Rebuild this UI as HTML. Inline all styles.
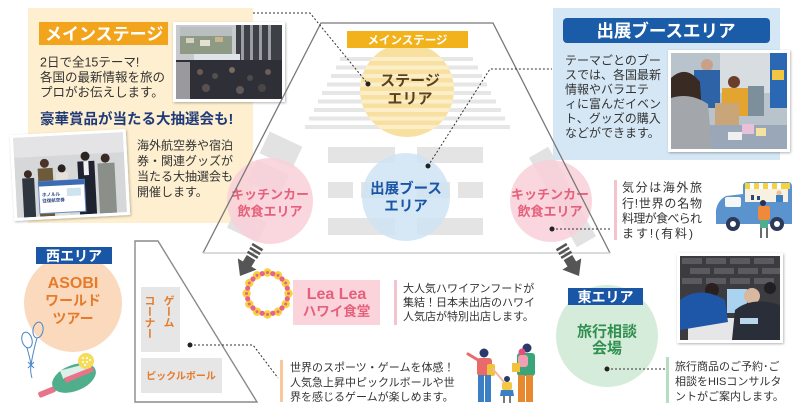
<!DOCTYPE html>
<html><head><meta charset="utf-8">
<style>
html,body{margin:0;padding:0;background:#fff;}
#wrap{position:relative;width:806px;height:411px;overflow:hidden;background:#fff;font-family:"Liberation Sans","Noto Sans CJK JP",sans-serif;}
svg{position:absolute;left:0;top:0;}
svg text{font-family:"Liberation Sans","Noto Sans CJK JP",sans-serif;}
.vt{position:absolute;left:139px;top:295px;width:38px;height:56px;writing-mode:vertical-rl;font-size:11px;line-height:19px;font-weight:bold;color:#e57b2b;font-family:"Liberation Sans","Noto Sans CJK JP",sans-serif;letter-spacing:0px;white-space:nowrap;}
</style></head><body><div id="wrap">
<svg width="806" height="411" viewBox="0 0 806 411" xmlns="http://www.w3.org/2000/svg">
<defs>
<filter id="sh" x="-10%" y="-10%" width="125%" height="125%"><feDropShadow dx="0.8" dy="1" stdDeviation="1.2" flood-color="#000" flood-opacity="0.3"/></filter>
<clipPath id="stagec"><circle cx="407" cy="90" r="47"/></clipPath>
<g id="fy"><circle cx="288.5" cy="293.5" r="4.2" fill="#f6d23c"/><circle cx="288.5" cy="293.5" r="1.5" fill="#e8628a"/></g>
<g id="fp"><circle cx="288" cy="293.5" r="2.6" fill="#e8628a"/></g>
<clipPath id="p1"><rect x="176" y="25" width="106" height="74"/></clipPath>
<clipPath id="p2"><rect x="15" y="135" width="110" height="80"/></clipPath>
<clipPath id="p3"><rect x="671" y="53" width="116" height="96"/></clipPath>
<clipPath id="p4"><rect x="680" y="256" width="100" height="84"/></clipPath>
</defs>

<!-- LEFT CREAM PANEL -->
<rect x="28" y="8" width="225" height="215" fill="#fdefcf"/>
<rect x="39" y="22" width="129" height="23" fill="#f1a41c"/>
<text x="45" y="40" font-size="17" font-weight="bold" fill="#fff">メインステージ</text>
<g font-size="12.5" fill="#333">
<text x="40" y="66.5">2日で全15テーマ!</text>
<text x="40" y="81.5">各国の最新情報を旅の</text>
<text x="40" y="96.5">プロがお伝えします。</text>
</g>
<text x="40" y="124" font-size="14.5" font-weight="bold" fill="#1f3a78">豪華賞品が当たる大抽選会も!</text>
<g font-size="12" fill="#333">
<text x="137" y="149.5">海外航空券や宿泊</text>
<text x="137" y="165">券・関連グッズが</text>
<text x="137" y="180.5">当たる大抽選会も</text>
<text x="137" y="196">開催します。</text>
</g>

<!-- PHOTO 1 main stage -->
<rect x="173" y="22" width="112" height="80" fill="#fff" filter="url(#sh)"/>
<g clip-path="url(#p1)">
<rect x="176" y="25" width="106" height="74" fill="#c8c9cc"/>
<rect x="180" y="27" width="52" height="27" fill="#8f9a86"/>
<rect x="180" y="27" width="52" height="9" fill="#b9bfc0"/>
<rect x="186" y="38" width="8" height="5" fill="#d8d2c0"/><rect x="200" y="40" width="10" height="6" fill="#e6e0d0"/><rect x="215" y="37" width="8" height="5" fill="#c9b68e"/>
<rect x="236" y="25" width="46" height="36" fill="#3d4047"/>
<rect x="241" y="25" width="3" height="36" fill="#9a9da3"/><rect x="250" y="25" width="3" height="36" fill="#9a9da3"/><rect x="259" y="25" width="3" height="36" fill="#9a9da3"/><rect x="268" y="25" width="3" height="36" fill="#9a9da3"/>
<rect x="194" y="54" width="46" height="8" fill="#dfe4ea"/>
<rect x="176" y="60" width="106" height="39" fill="#2f2f37"/>
<rect x="176" y="62" width="14" height="37" fill="#9a9a9e"/>
<circle cx="200" cy="72" r="3" fill="#6b5a52"/><circle cx="215" cy="76" r="3" fill="#55504f"/><circle cx="232" cy="70" r="3" fill="#7a6a60"/><circle cx="250" cy="78" r="3" fill="#4d4a4c"/><circle cx="268" cy="72" r="3" fill="#6a5e58"/><circle cx="206" cy="88" r="4" fill="#5a5050"/><circle cx="240" cy="90" r="4" fill="#615858"/><circle cx="262" cy="88" r="4" fill="#4a4546"/>
</g>

<!-- PHOTO 2 lottery -->
<g transform="rotate(-3 70 175)">
<rect x="12" y="132" width="116" height="86" fill="#fff" filter="url(#sh)"/>
<g clip-path="url(#p2)">
<rect x="15" y="135" width="110" height="80" fill="#d6d7d9"/>
<rect x="15" y="135" width="110" height="20" fill="#e4e4e6"/>
<circle cx="28" cy="172" r="4" fill="#3b2a22"/><rect x="22" y="176" width="12" height="39" fill="#2e3640"/>
<circle cx="45" cy="162" r="4.5" fill="#4a3528"/><rect x="38" y="167" width="15" height="48" fill="#6d5a3a"/>
<circle cx="62" cy="168" r="4" fill="#2a2220"/><rect x="56" y="172" width="12" height="43" fill="#e7e0d8"/>
<circle cx="86" cy="157" r="4.5" fill="#2b2422"/><rect x="78" y="162" width="17" height="53" fill="#1f2330"/>
<rect x="84" y="162" width="5" height="14" fill="#f1f1f1"/>
<circle cx="106" cy="160" r="4.5" fill="#3a2c24"/><rect x="98" y="165" width="17" height="50" fill="#8a8f8a"/>
<rect x="38" y="180" width="46" height="32" fill="#fff" stroke="#6b8fc6" stroke-width="1"/>
<rect x="38" y="180" width="46" height="5" fill="#3c6bb3"/>
<rect x="66" y="188" width="14" height="8" fill="#cfe3ef"/>
<text x="41" y="195" font-size="4.5" fill="#1f3a78" font-weight="bold">ホノルル</text>
<text x="41" y="201" font-size="4.5" fill="#1f3a78" font-weight="bold">往復航空券</text>
</g>
</g>

<!-- RIGHT BLUE PANEL -->
<rect x="553" y="8" width="227" height="152" fill="#d5e7f5"/>
<rect x="563" y="18" width="207" height="25" rx="4" fill="#1b5ca8"/>
<text x="666" y="37" font-size="17.5" font-weight="bold" fill="#fff" text-anchor="middle">出展ブースエリア</text>
<g font-size="12" fill="#333">
<text x="565" y="64.5">テーマごとのブー</text>
<text x="565" y="79">スでは、各国最新</text>
<text x="565" y="93.5">情報やバラエテ</text>
<text x="565" y="108">ィに富んだイベン</text>
<text x="565" y="122.5">ト、グッズの購入</text>
<text x="565" y="137">などができます。</text>
</g>

<!-- PHOTO 3 booth -->
<rect x="668" y="50" width="122" height="102" fill="#fff" filter="url(#sh)"/>
<g clip-path="url(#p3)">
<rect x="671" y="53" width="116" height="96" fill="#b8c3cc"/>
<rect x="720" y="53" width="50" height="40" fill="#d8dde2"/>
<rect x="770" y="53" width="17" height="55" fill="#2a68b4"/>
<rect x="772" y="70" width="12" height="10" fill="#f2c640"/>
<circle cx="707" cy="65" r="6" fill="#caa088"/>
<rect x="694" y="70" width="26" height="38" fill="#2e63a8"/>
<circle cx="734" cy="82" r="6" fill="#6a3e28"/>
<rect x="722" y="88" width="26" height="28" fill="#e3a530"/>
<rect x="715" y="103" width="24" height="30" fill="#c9a67a"/>
<rect x="671" y="125" width="116" height="24" fill="#9aa7b8"/>
<rect x="742" y="124" width="12" height="10" fill="#e8c0d8"/><rect x="756" y="128" width="10" height="8" fill="#f3e3a0"/><rect x="728" y="132" width="14" height="8" fill="#f0f0f0"/>
<path d="M671 78 Q686 64 700 82 L704 149 L671 149 Z" fill="#3a2a24"/>
<path d="M671 98 Q690 92 708 104 L712 149 L671 149 Z" fill="#a3a6aa"/>
<rect x="748" y="86" width="16" height="30" fill="#7d8f9a"/>
</g>

<!-- PHOTO 4 consultation -->
<rect x="677" y="253" width="106" height="90" fill="#fff" filter="url(#sh)"/>
<g clip-path="url(#p4)">
<rect x="680" y="256" width="100" height="84" fill="#3c3c40"/>
<g fill="#5a5a5f">
<rect x="682" y="258" width="20" height="6"/><rect x="706" y="258" width="20" height="6"/><rect x="730" y="258" width="20" height="6"/><rect x="754" y="258" width="20" height="6"/>
<rect x="690" y="268" width="20" height="6"/><rect x="714" y="268" width="20" height="6"/><rect x="738" y="268" width="20" height="6"/><rect x="762" y="268" width="18" height="6"/>
<rect x="682" y="278" width="20" height="6"/><rect x="706" y="278" width="20" height="6"/><rect x="730" y="278" width="20" height="6"/><rect x="754" y="278" width="20" height="6"/>
</g>
<rect x="727" y="289" width="20" height="24" fill="#a9d3ee"/>
<rect x="688" y="318" width="80" height="22" fill="#e6e6e8"/>
<circle cx="712" cy="290" r="7" fill="#2a2020"/>
<path d="M680 300 Q700 285 725 300 L728 322 L680 330 Z" fill="#1f57a8"/>
<circle cx="752" cy="296" r="8" fill="#d8b8a0"/>
<path d="M735 310 Q752 296 780 305 L780 340 L732 340 Z" fill="#2a2e38"/>
<circle cx="770" cy="288" r="6" fill="#202024"/>
<rect x="740" y="318" width="18" height="6" fill="#b9d7ea"/>
</g>

<!-- MAIN TRAPEZOID CONTENT -->
<g fill="#e6e6e6">
<rect x="340" y="57" width="133" height="4"/>
<rect x="336" y="65.5" width="142" height="4"/>
<rect x="331" y="74" width="151" height="4"/>
<rect x="327" y="82.5" width="160" height="4"/>
<rect x="322" y="91" width="169" height="4"/>
<rect x="318" y="99.5" width="178" height="4"/>
<rect x="314" y="108" width="187" height="4"/>
<rect x="309" y="116.5" width="196" height="4"/>
<rect x="305" y="125" width="205" height="4"/>
</g>
<circle cx="407" cy="90" r="47" fill="#f8e1a0"/>
<g clip-path="url(#stagec)" fill="#fbeec9">
<rect x="340" y="57" width="133" height="4"/>
<rect x="336" y="65.5" width="142" height="4"/>
<rect x="331" y="74" width="151" height="4"/>
<rect x="327" y="82.5" width="160" height="4"/>
<rect x="322" y="91" width="169" height="4"/>
<rect x="318" y="99.5" width="178" height="4"/>
<rect x="314" y="108" width="187" height="4"/>
<rect x="309" y="116.5" width="196" height="4"/>
<rect x="305" y="125" width="205" height="4"/>
</g>
<rect x="347" y="31" width="121" height="17" fill="#f2b21c"/>
<text x="407.5" y="44" font-size="11.5" font-weight="bold" fill="#fff" text-anchor="middle">メインステージ</text>
<g font-size="15" font-weight="bold" fill="#5a4220" text-anchor="middle">
<text x="410" y="85.5">ステージ</text>
<text x="410" y="103.5">エリア</text>
</g>

<!-- booth rects -->
<g fill="#e4e4e4">
<rect x="328" y="147" width="67" height="16"/><rect x="417" y="147" width="66" height="16"/>
<rect x="328" y="182" width="25" height="16"/><rect x="361" y="182" width="34" height="16"/><rect x="417" y="182" width="33" height="16"/><rect x="458" y="182" width="25" height="16"/>
<rect x="328" y="218" width="67" height="17"/><rect x="417" y="218" width="66" height="17"/>
</g>
<circle cx="406" cy="197" r="44" fill="#cfe3f4" opacity="0.85"/>
<g font-size="14.5" font-weight="bold" fill="#1a56a6" text-anchor="middle">
<text x="406" y="193.5">出展ブース</text>
<text x="406" y="211">エリア</text>
</g>

<!-- kitchen rects left -->
<g fill="#e2e2e2">
<rect x="263" y="138" width="36" height="24" transform="rotate(25 281 150)"/>
<rect x="250" y="166" width="36" height="24" transform="rotate(25 268 178)"/>
<rect x="230" y="214" width="34" height="22" transform="rotate(25 247 225)"/>
</g>
<circle cx="270" cy="201" r="43" fill="#f9d0d8" opacity="0.85"/>
<g font-size="13" font-weight="bold" fill="#e5607c" text-anchor="middle">
<text x="270" y="199">キッチンカー</text>
<text x="270" y="216">飲食エリア</text>
</g>
<!-- kitchen rects right -->
<g fill="#e2e2e2">
<rect x="536" y="150" width="22" height="34" transform="rotate(-30 547 167)"/>
<rect x="552" y="180" width="22" height="34" transform="rotate(-30 563 197)"/>
<rect x="567" y="210" width="22" height="34" transform="rotate(-30 578 227)"/>
</g>
<circle cx="551" cy="201" r="41" fill="#f9d0d8" opacity="0.85"/>
<g font-size="13" font-weight="bold" fill="#e5607c" text-anchor="middle">
<text x="550" y="199">キッチンカー</text>
<text x="550" y="216">飲食エリア</text>
</g>

<!-- trapezoid outline -->
<path d="M203 253 L321 23 L493 23 L610 253" fill="none" stroke="#787878" stroke-width="1.3"/>
<line x1="203" y1="253" x2="610" y2="253" stroke="#cfcfcf" stroke-width="1.5"/>

<!-- kitchen text right -->
<rect x="614" y="180" width="3" height="60" fill="#f4c4ce"/>
<g font-size="12" fill="#333">
<text x="622" y="191.5" textLength="80" lengthAdjust="spacing">気分は海外旅</text>
<text x="622" y="207.5" textLength="80" lengthAdjust="spacing">行!世界の名物</text>
<text x="622" y="222.5" textLength="80" lengthAdjust="spacing">料理が食べられ</text>
<text x="622" y="237.5" textLength="71" lengthAdjust="spacing">ます!(有料)</text>
</g>

<!-- food truck -->
<g>
<path d="M743 186 Q743 182 748 182 L788 182 Q792 182 792 187 L792 224 L716 224 L716 210 Q718 200 726 196 L743 194 Z" fill="#5b93cf"/>
<rect x="725" y="197" width="16" height="10" rx="2" fill="#f4f6f8"/>
<rect x="745" y="188" width="43" height="14" fill="#f6f1e2"/>
<rect x="745" y="183" width="45" height="6" fill="#f5d23e"/>
<rect x="750" y="183" width="4" height="6" fill="#fff"/><rect x="759" y="183" width="4" height="6" fill="#fff"/><rect x="768" y="183" width="4" height="6" fill="#fff"/><rect x="777" y="183" width="4" height="6" fill="#fff"/>
<circle cx="779" cy="193" r="2.5" fill="#f0c090"/><rect x="776" y="195" width="7" height="7" fill="#3b7fc4"/>
<rect x="751" y="195" width="3" height="5" fill="#2a4a7a"/><rect x="757" y="196" width="3" height="4" fill="#2a4a7a"/>
<circle cx="733" cy="224" r="7" fill="#2b3a5a"/><circle cx="733" cy="224" r="3" fill="#fff"/>
<circle cx="777" cy="224" r="7" fill="#2b3a5a"/><circle cx="777" cy="224" r="3" fill="#fff"/>
<circle cx="763" cy="203" r="3" fill="#2a3050"/>
<rect x="758" y="206" width="12" height="14" rx="2" fill="#ee8a3a"/>
<rect x="760" y="220" width="8" height="8" fill="#4fae8c"/>
<line x1="761" y1="228" x2="761" y2="238" stroke="#3a3a3a" stroke-width="1.5"/>
<line x1="767" y1="228" x2="767" y2="238" stroke="#3a3a3a" stroke-width="1.5"/>
</g>

<!-- arrows -->
<g fill="#555" transform="translate(258 246) rotate(31)">
<rect x="-6" y="0" width="12" height="2.6"/><rect x="-6" y="4.5" width="12" height="2.6"/><rect x="-6" y="9" width="12" height="2.6"/>
<rect x="-5" y="13.5" width="10" height="8"/>
<polygon points="-11,21 11,21 0,35"/>
</g>
<g fill="#555" transform="translate(561 246) rotate(-31)">
<rect x="-6" y="0" width="12" height="2.6"/><rect x="-6" y="4.5" width="12" height="2.6"/><rect x="-6" y="9" width="12" height="2.6"/>
<rect x="-5" y="13.5" width="10" height="8"/>
<polygon points="-11,21 11,21 0,35"/>
</g>

<!-- WEST AREA -->
<circle cx="73" cy="303" r="49" fill="#fbd9bd"/>
<rect x="36" y="247" width="76" height="17" fill="#1a56a6"/>
<text x="74" y="261" font-size="14" font-weight="bold" fill="#fff" text-anchor="middle">西エリア</text>
<g font-weight="bold" fill="#e57b2b" text-anchor="middle">
<text x="73" y="288" font-size="16">ASOBI</text>
<text x="73" y="305.5" font-size="14">ワールド</text>
<text x="73" y="323.5" font-size="14">ツアー</text>
</g>
<!-- balloons -->
<g fill="none" stroke="#4b86c8" stroke-width="1">
<ellipse cx="27" cy="340" rx="5" ry="8" transform="rotate(-15 27 340)"/>
<ellipse cx="38" cy="330" rx="5" ry="8" transform="rotate(10 38 330)"/>
<path d="M27 348 Q30 358 31 365 Q30 372 32 378"/>
<path d="M37 338 Q33 352 31 365"/>
<path d="M28 362 L31 365 L34 362 M28 368 L31 365 L34 368"/>
</g>
<!-- paddle -->
<g>
<rect x="38" y="389" width="18" height="6" rx="2" fill="#e8748a" transform="rotate(-22 47 392)"/>
<ellipse cx="74" cy="378" rx="23" ry="13" fill="#4fae8c" transform="rotate(-22 74 378)"/>
<path d="M60 372 L88 362 L92 368 L64 380 Z" fill="#fff" opacity="0.8" transform="rotate(5 76 371)"/>
<path d="M64 378 L92 367 L94 371 L66 383 Z" fill="#e8748a"/>
<circle cx="86" cy="361" r="8" fill="#f5dc5a"/>
<g fill="#fff"><circle cx="83" cy="358" r="1"/><circle cx="87" cy="358" r="1"/><circle cx="83" cy="362" r="1"/><circle cx="87" cy="362" r="1"/><circle cx="90" cy="360" r="1"/><circle cx="85" cy="365" r="1"/></g>
</g>

<!-- game trapezoid -->
<path d="M135 402 L135 241 L158 241 L257 402 Z" fill="none" stroke="#8a8a8a" stroke-width="1.4"/>
<rect x="141" y="287" width="39" height="65" fill="#e6e6e6"/>
<rect x="141" y="358" width="81" height="35" fill="#e6e6e6"/>
<text x="181" y="379.5" font-size="10" font-weight="bold" fill="#e57b2b" text-anchor="middle">ピックルボール</text>

<!-- game text -->
<rect x="280" y="360" width="3" height="42" fill="#f8c89a"/>
<g font-size="11" fill="#333">
<text x="290" y="371">世界のスポーツ・ゲームを体感！</text>
<text x="290" y="386">人気急上昇中ピックルボールや世</text>
<text x="290" y="400.5">界を感じるゲームが楽しめます。</text>
</g>

<!-- family -->
<g>
<path d="M478 360 L468 354" stroke="#e86a6a" stroke-width="3" stroke-linecap="round"/>
<circle cx="484" cy="353" r="4.5" fill="#2a3a6a"/>
<rect x="477" y="358" width="15" height="18" rx="3" fill="#e86a6a"/>
<rect x="487" y="364" width="8" height="12" rx="2" fill="#f2c33a"/>
<rect x="478" y="375" width="6" height="27" fill="#3b7fc4"/><rect x="485" y="375" width="6" height="27" fill="#3b7fc4"/>
<line x1="492" y1="368" x2="504" y2="382" stroke="#f0b8a0" stroke-width="2"/>
<circle cx="507" cy="379" r="3" fill="#2a3a6a"/>
<rect x="502" y="382" width="10" height="8" rx="2" fill="#f5c842"/>
<path d="M501 390 L513 390 L514 396 L500 396 Z" fill="#3b7fc4"/>
<line x1="504" y1="396" x2="504" y2="403" stroke="#333" stroke-width="1.3"/><line x1="510" y1="396" x2="510" y2="403" stroke="#333" stroke-width="1.3"/>
<circle cx="527" cy="348" r="4.5" fill="#2a3a6a"/>
<rect x="517" y="353" width="18" height="23" rx="3" fill="#3aa57a"/>
<circle cx="522" cy="352" r="3.5" fill="#e0507a"/>
<rect x="518" y="355" width="10" height="12" rx="3" fill="#f0a0b0"/>
<rect x="512" y="363" width="8" height="9" fill="#f2c33a"/>
<rect x="518" y="375" width="7" height="27" fill="#e8892f"/><rect x="526" y="375" width="7" height="27" fill="#e8892f"/>
</g>

<!-- Lea Lea -->
<g>
<use href="#fy"/><use href="#fy" transform="rotate(30 267.5 293.5)"/><use href="#fy" transform="rotate(60 267.5 293.5)"/><use href="#fy" transform="rotate(90 267.5 293.5)"/><use href="#fy" transform="rotate(120 267.5 293.5)"/><use href="#fy" transform="rotate(150 267.5 293.5)"/><use href="#fy" transform="rotate(180 267.5 293.5)"/><use href="#fy" transform="rotate(210 267.5 293.5)"/><use href="#fy" transform="rotate(240 267.5 293.5)"/><use href="#fy" transform="rotate(270 267.5 293.5)"/><use href="#fy" transform="rotate(300 267.5 293.5)"/><use href="#fy" transform="rotate(330 267.5 293.5)"/>
<use href="#fp" transform="rotate(15 267.5 293.5)"/><use href="#fp" transform="rotate(45 267.5 293.5)"/><use href="#fp" transform="rotate(75 267.5 293.5)"/><use href="#fp" transform="rotate(105 267.5 293.5)"/><use href="#fp" transform="rotate(135 267.5 293.5)"/><use href="#fp" transform="rotate(165 267.5 293.5)"/><use href="#fp" transform="rotate(195 267.5 293.5)"/><use href="#fp" transform="rotate(225 267.5 293.5)"/><use href="#fp" transform="rotate(255 267.5 293.5)"/><use href="#fp" transform="rotate(285 267.5 293.5)"/><use href="#fp" transform="rotate(315 267.5 293.5)"/><use href="#fp" transform="rotate(345 267.5 293.5)"/>
</g>
<rect x="293" y="280" width="87" height="45" fill="#fbd3db"/>
<text x="336.5" y="299" font-size="16" font-weight="bold" fill="#e5607c" text-anchor="middle">Lea Lea</text>
<text x="336.5" y="316" font-size="13.5" font-weight="bold" fill="#e5607c" text-anchor="middle">ハワイ食堂</text>
<rect x="394" y="280" width="3" height="45" fill="#f4c4ce"/>
<g font-size="11" fill="#333">
<text x="403" y="292">大人気ハワイアンフードが</text>
<text x="403" y="306">集結！日本未出店のハワイ</text>
<text x="403" y="320">人気店が特別出店します。</text>
</g>

<!-- EAST AREA -->
<circle cx="607" cy="336" r="51" fill="#d6ecdb"/>
<rect x="568" y="288" width="75" height="17" fill="#1a56a6"/>
<text x="605.5" y="302" font-size="14" font-weight="bold" fill="#fff" text-anchor="middle">東エリア</text>
<g font-size="15" font-weight="bold" fill="#2f8f4f" text-anchor="middle">
<text x="607" y="336.5">旅行相談</text>
<text x="607" y="353">会場</text>
</g>
<rect x="666" y="357" width="3" height="46" fill="#b7dcc0"/>
<g font-size="11" fill="#333">
<text x="675" y="370">旅行商品のご予約･ご</text>
<text x="675" y="385">相談をHISコンサルタ</text>
<text x="675" y="400">ントがご案内します。</text>
</g>

<!-- dotted connectors (on top) -->
<g fill="none" stroke="#333" stroke-width="1" stroke-dasharray="2 2">
<polyline points="253,13 310,13 368,84"/>
<polyline points="428,166 490,69 552,69"/>
<polyline points="552,229 612,229"/>
<polyline points="190,345 253,345 278,378"/>
<polyline points="607,369 665,369"/>
</g>
<g fill="#222">
<circle cx="368" cy="84" r="2.5"/>
<circle cx="428" cy="166" r="2.5"/>
<circle cx="552" cy="229" r="2.5"/>
<circle cx="190" cy="345" r="2.5"/>
<circle cx="607" cy="369" r="2.5"/>
</g>
</svg>
<div class="vt">ゲーム<br>コーナー</div>
</div></body></html>
